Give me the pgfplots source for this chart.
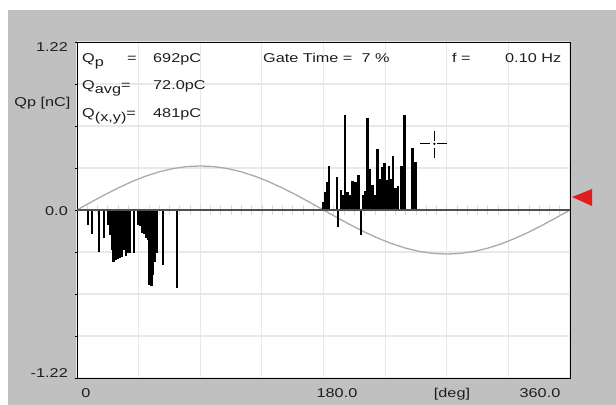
\documentclass[border=0pt]{standalone}
\usepackage{fontspec}
\setmainfont{Liberation Sans}[FakeStretch=1.27]
\usepackage{pgfplots}
\pgfplotsset{compat=1.18}
\definecolor{panel}{RGB}{192,192,192}
\definecolor{gridc}{RGB}{232,232,232}
\definecolor{sinec}{RGB}{170,170,170}
\definecolor{zeroc}{RGB}{80,80,80}
\definecolor{tri}{RGB}{225,30,30}
\definecolor{txt}{RGB}{30,30,30}
\begin{document}
\begin{tikzpicture}[font=\fontsize{12.8bp}{15bp}\selectfont, text=txt]
\useasboundingbox (0,0) rectangle (616bp,405bp);
\fill[white] (0,0) rectangle (616bp,405bp);
\fill[panel] (8bp,0) rectangle (616bp,395bp);
\begin{axis}[
  at={(77bp,27bp)}, anchor=south west,
  scale only axis, width=493bp, height=336bp,
  xmin=0, xmax=360, ymin=-1.22, ymax=1.22,
  xtick={0,45,...,360},
  ytick={-1.22,-0.915,-0.61,-0.305,0,0.305,0.61,0.915,1.22},
  xticklabels={}, yticklabels={},
  grid=major,
  major grid style={draw=gridc, line width=1.2bp},
  xtick style={draw=none},
  ytick style={draw=black, line width=0.6bp},
  ytick pos=left, tick align=outside, major tick length=2.5bp,
  axis line style={black, line width=0.9bp},
  axis background/.style={fill=white},
  clip=false,
]
% reference sine
\addplot[sinec, line width=1.3bp, no marks] coordinates {
(0,0) (10,0.0556) (20,0.1094) (30,0.16) (40,0.2057) (50,0.2451) (60,0.2771)
(70,0.3007) (80,0.3151) (90,0.32) (100,0.3151) (110,0.3007) (120,0.2771)
(130,0.2451) (140,0.2057) (150,0.16) (160,0.1094) (170,0.0556) (180,0)
(190,-0.0556) (200,-0.1094) (210,-0.16) (220,-0.2057) (230,-0.2451) (240,-0.2771)
(250,-0.3007) (260,-0.3151) (270,-0.32) (280,-0.3151) (290,-0.3007) (300,-0.2771)
(310,-0.2451) (320,-0.2057) (330,-0.16) (340,-0.1094) (350,-0.0556) (360,0)
};
% small ticks along the zero line
\pgfplotsinvokeforeach{7.5,15,...,352.5}{
  \draw[gray!28, line width=0.7bp] (axis cs:#1,-0.038) -- (axis cs:#1,0.038);
}
% negative pulses
\addplot[ycomb, black, line width=2.7bp, no marks] coordinates {
(8.0,-0.109) (10.95,-0.174) (16.1,-0.305) (19.7,-0.203) (22.6,-0.109)
(24.1,-0.182) (25.6,-0.290) (26.7,-0.378) (28.5,-0.363) (29.9,-0.356)
(31.4,-0.349) (32.9,-0.341) (34.3,-0.290) (35.8,-0.334) (37.2,-0.312)
(38.7,-0.312) (41.6,-0.312) (44.5,-0.109) (46.0,-0.116) (47.5,-0.167)
(48.9,-0.174) (50.4,-0.203) (51.8,-0.218) (52.9,-0.545) (54.4,-0.552)
(55.5,-0.472) (57.0,-0.378) (58.1,-0.312) (62.8,-0.399) (73.0,-0.566)
};
% positive pulses
\addplot[ycomb, black, line width=2.7bp, no marks] coordinates {
(179.6,0.058) (181.1,0.131) (182.6,0.203) (184.0,0.320) (189.9,0.240)
(190.6,-0.123) (192.8,0.145) (194.2,0.109) (195.7,0.690) (197.5,0.131)
(199.3,0.109) (201.2,0.211) (203.4,0.203) (205.6,0.254) (207.4,-0.182)
(208.8,0.109) (210.3,0.138) (212.1,0.668) (214.0,0.298) (215.8,0.182)
(217.6,0.109) (219.4,0.443) (221.3,0.225) (222.7,0.312) (224.5,0.341)
(226.4,0.218) (227.8,0.320) (229.3,0.225) (230.7,0.392) (232.6,0.160)
(234.4,0.174) (236.9,0.320) (239.1,0.692) (245.0,0.450) (247.2,0.349)
};
% zero line
\draw[zeroc, line width=2bp] (axis cs:0,0) -- (axis cs:360,0);
% cursor
\draw[black, line width=1bp] ([xshift=-14bp]axis cs:261,0.481) -- ([xshift=-4bp]axis cs:261,0.481);
\draw[black, line width=1bp] ([xshift=3bp]axis cs:261,0.481) -- ([xshift=13bp]axis cs:261,0.481);
\draw[black, line width=1bp] ([yshift=-14bp]axis cs:261,0.481) -- ([yshift=-4bp]axis cs:261,0.481);
\draw[black, line width=1bp] ([yshift=3bp]axis cs:261,0.481) -- ([yshift=13bp]axis cs:261,0.481);
\fill[black] (axis cs:261,0.481) circle (1.2bp);
\end{axis}
\begin{scope}[x=1bp,y=1bp]
\fill[tri] (572,208) -- (592,216) -- (592,199) -- cycle;
% y labels
\node[anchor=base east, inner sep=0] at (68,354) {1.22};
\node[anchor=base east, inner sep=0] at (68,190) {0.0};
\node[anchor=base east, inner sep=0] at (68,28) {-1.22};
\node[anchor=base, inner sep=0] at (42.5,299) {Qp [nC]};
% x labels
\node[anchor=base, inner sep=0] at (86,8) {0};
\node[anchor=base, inner sep=0] at (337,8) {180.0};
\node[anchor=base, inner sep=0] at (452,8) {[deg]};
\node[anchor=base, inner sep=0] at (540,8) {360.0};
% header text
\node[anchor=base west, inner sep=0] at (82,343) {Q\raisebox{-4bp}{p}};
\node[anchor=base west, inner sep=0] at (127,343) {=};
\node[anchor=base west, inner sep=0] at (153,343) {692pC};
\node[anchor=base west, inner sep=0] at (82,316) {Q\raisebox{-4bp}{avg}=};
\node[anchor=base west, inner sep=0] at (153,316) {72.0pC};
\node[anchor=base west, inner sep=0] at (82,288) {Q\raisebox{-4bp}{(x,y)}=};
\node[anchor=base west, inner sep=0] at (153,288) {481pC};
\node[anchor=base west, inner sep=0] at (263,343) {Gate Time =\ \ 7 \%};
\node[anchor=base west, inner sep=0] at (452,343) {f =};
\node[anchor=base west, inner sep=0] at (505,343) {0.10 Hz};
\end{scope}
\end{tikzpicture}
\end{document}
